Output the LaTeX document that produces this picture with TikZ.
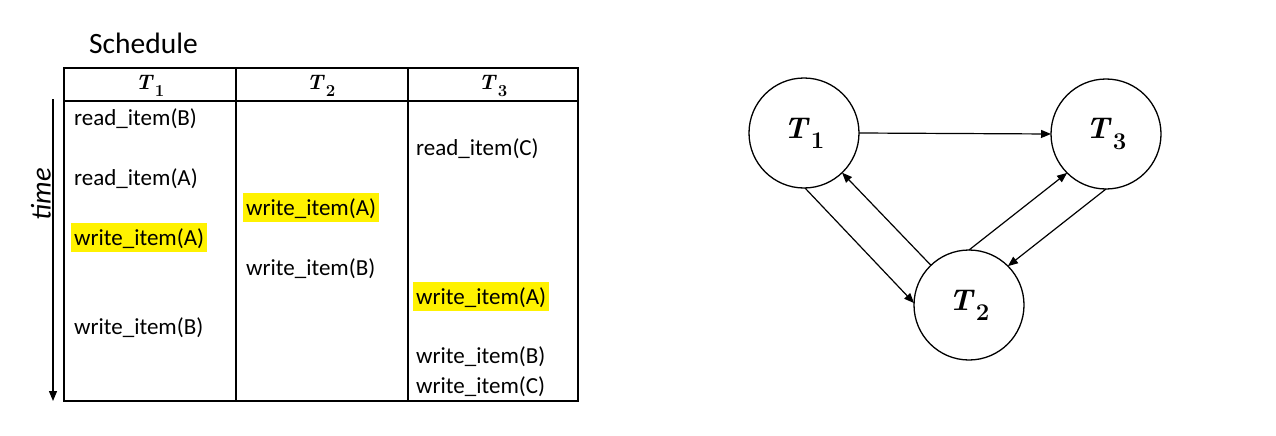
\documentclass[tikz,border=0pt]{standalone}
\usepackage{fontspec}
\usepackage{graphicx}
\newfontfamily\cali{Carlito}
\newcommand{\Tn}[1]{\textbf{\textit{T}\kern0.04em\raisebox{-0.34em}{\scalebox{0.8}{\upshape #1}}}}
\usetikzlibrary{arrows.meta}
\begin{document}
\begin{tikzpicture}[x=1pt,y=-1pt,
  cell/.style={anchor=base west,inner xsep=3pt,inner ysep=2pt,text height=20pt,text depth=5pt,font=\cali\fontsize{23}{26}\selectfont},
  hl/.style={cell,fill=yellow},
  head/.style={font=\fontsize{21}{24}\selectfont},
  tnode/.style={circle,draw,line width=1.3pt,minimum size=110pt,inner sep=0pt,outer sep=0pt,font=\fontsize{30}{32}\selectfont},
  arr/.style={line width=1.2pt,-{Triangle[length=10pt,width=8pt]}},
  tab/.style={line width=1.6pt}
]
\useasboundingbox (0,0) rectangle (1276,436);
% title
\node[anchor=base west,inner sep=0pt,font=\cali\fontsize{29.5}{32}\selectfont] (title) at (89,54) {Schedule};
% table
\draw[tab] (64,68) rectangle (578,401);
\draw[tab] (64,101) -- (578,101);
\draw[tab] (236,68) -- (236,401);
\draw[tab] (408,68) -- (408,401);
\node[head] (h1) at (150,86) {\Tn{1}};
\node[head] (h2) at (321,86) {\Tn{2}};
\node[head] (h3) at (493,86) {\Tn{3}};
% time axis
\coordinate (ttop) at (53,99);
\coordinate (tbot) at (53,401);
\draw[line width=1.2pt,-{Triangle[length=10pt,width=8pt]}] (ttop) -- (tbot);
\node[rotate=90,font=\cali\fontsize{28.5}{30}\selectfont\itshape] (time) at (41,194) {time};
% cells
\node[cell] (c1) at (71,125) {read\_item(B)};
\node[cell] (c2) at (413,155) {read\_item(C)};
\node[cell] (c3) at (71,185) {read\_item(A)};
\node[hl]   (c4) at (243,215) {write\_item(A)};
\node[hl]   (c5) at (71,245) {write\_item(A)};
\node[cell] (c6) at (243,275) {write\_item(B)};
\node[hl]   (c7) at (413,304) {write\_item(A)};
\node[cell] (c8) at (71,334) {write\_item(B)};
\node[cell] (c9) at (413,363) {write\_item(B)};
\node[cell] (c10) at (413,393) {write\_item(C)};
% graph
\node[tnode] (T1) at (804,133) {\Tn{1}};
\node[tnode] (T3) at (1106,134) {\Tn{3}};
\node[tnode] (T2) at (969,305) {\Tn{2}};
\draw[arr] (T1.0) -- (T3.180);
\draw[arr] (T1.-89) -- (T2.178);
\draw[arr] (T2) -- (T1);
\draw[arr] (T2.90) -- (T3.-135);
\draw[arr] (T3.-90) -- (T2.45);
\end{tikzpicture}
\end{document}
